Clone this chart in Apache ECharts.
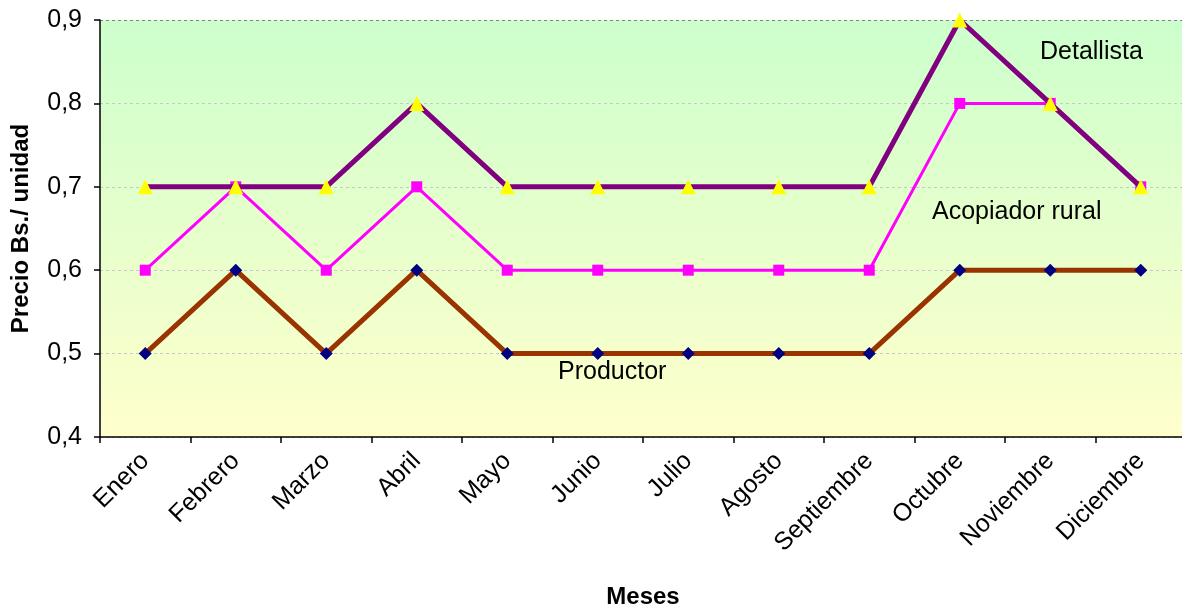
<!DOCTYPE html>
<html>
<head>
<meta charset="utf-8">
<script src="https://cdn.jsdelivr.net/npm/echarts@6/dist/echarts.min.js"></script>
<style>
  html, body { margin: 0; padding: 0; background: #ffffff; }
  #chart { width: 1182px; height: 607px; }
</style>
</head>
<body>
<div id="chart"></div>
<script>
// Monthly price per unit (Bs.) along the marketing chain
const meses = ['Enero', 'Febrero', 'Marzo', 'Abril', 'Mayo', 'Junio', 'Julio',
               'Agosto', 'Septiembre', 'Octubre', 'Noviembre', 'Diciembre'];
const detallista = [0.7, 0.7, 0.7, 0.8, 0.7, 0.7, 0.7, 0.7, 0.7, 0.9, 0.8, 0.7];
const acopiador  = [0.6, 0.7, 0.6, 0.7, 0.6, 0.6, 0.6, 0.6, 0.6, 0.8, 0.8, 0.7];
const productor  = [0.5, 0.6, 0.5, 0.6, 0.5, 0.5, 0.5, 0.5, 0.5, 0.6, 0.6, 0.6];

const FONT = 'Arial, "Liberation Sans", sans-serif';

const chart = echarts.init(document.getElementById('chart'), null, { renderer: 'canvas' });

chart.setOption({
  animation: false,
  backgroundColor: '#ffffff',
  grid: {
    left: 100, right: -4, top: 20, bottom: 170,
    outerBoundsMode: 'none',
    containLabel: false,
    show: true,
    borderWidth: 0,
    backgroundColor: new echarts.graphic.LinearGradient(0, 0, 0, 1, [
      { offset: 0, color: '#ccffcc' },
      { offset: 1, color: '#ffffcc' }
    ])
  },
  xAxis: {
    type: 'category',
    data: meses,
    boundaryGap: true,
    name: 'Meses',
    nameLocation: 'middle',
    nameGap: 148,
    nameTextStyle: { fontFamily: FONT, fontSize: 24, fontWeight: 'bold', color: '#000' },
    axisLine: { lineStyle: { color: '#000', width: 1.5 } },
    axisTick: { show: true, alignWithLabel: false, length: 6, lineStyle: { color: '#000', width: 1.5 } },
    axisLabel: { rotate: 45, fontFamily: FONT, fontSize: 25, color: '#000', margin: 20 },
    splitLine: { show: false }
  },
  yAxis: {
    type: 'value',
    min: 0.4, max: 0.9, interval: 0.1,
    name: 'Precio Bs./ unidad',
    nameLocation: 'middle',
    nameGap: 67,
    nameTextStyle: { fontFamily: FONT, fontSize: 24, fontWeight: 'bold', color: '#000' },
    axisLine: { show: true, lineStyle: { color: '#000', width: 1.5 } },
    axisTick: { show: true, inside: false, length: 6, lineStyle: { color: '#000', width: 1.5 } },
    axisLabel: {
      fontFamily: FONT, fontSize: 25, color: '#000', margin: 18,
      formatter: v => v.toFixed(1).replace('.', ',')
    },
    splitLine: {
      show: true,
      lineStyle: {
        color: ['#c8c8c8', '#c8c8c8', '#c8c8c8', '#c8c8c8', '#c8c8c8', '#808080'],
        type: [3, 3], width: 1
      }
    }
  },
  series: [
    {
      name: 'Productor', type: 'line', data: productor,
      symbol: 'diamond', symbolSize: 13,
      lineStyle: { color: '#993300', width: 5 },
      itemStyle: { color: '#000080' },
      z: 2
    },
    {
      name: 'Acopiador rural', type: 'line', data: acopiador,
      symbol: 'rect', symbolSize: 11,
      lineStyle: { color: '#ff00ff', width: 3 },
      itemStyle: { color: '#ff00ff' },
      z: 3
    },
    {
      name: 'Detallista', type: 'line', data: detallista,
      symbol: 'triangle', symbolSize: 15,
      lineStyle: { color: '#800080', width: 5 },
      itemStyle: { color: '#ffff00' },
      z: 4
    }
  ]
});

// Series names written inside the plot next to each line
chart.setOption({
  graphic: [
    { type: 'text', left: 1040, top: 40, z: 10,
      style: { text: 'Detallista', font: '25px ' + FONT, fill: '#000' } },
    { type: 'text', left: 932, top: 200, z: 10,
      style: { text: 'Acopiador rural', font: '25px ' + FONT, fill: '#000' } },
    { type: 'text', left: 558, top: 360, z: 10,
      style: { text: 'Productor', font: '25px ' + FONT, fill: '#000' } }
  ]
});
</script>
</body>
</html>
